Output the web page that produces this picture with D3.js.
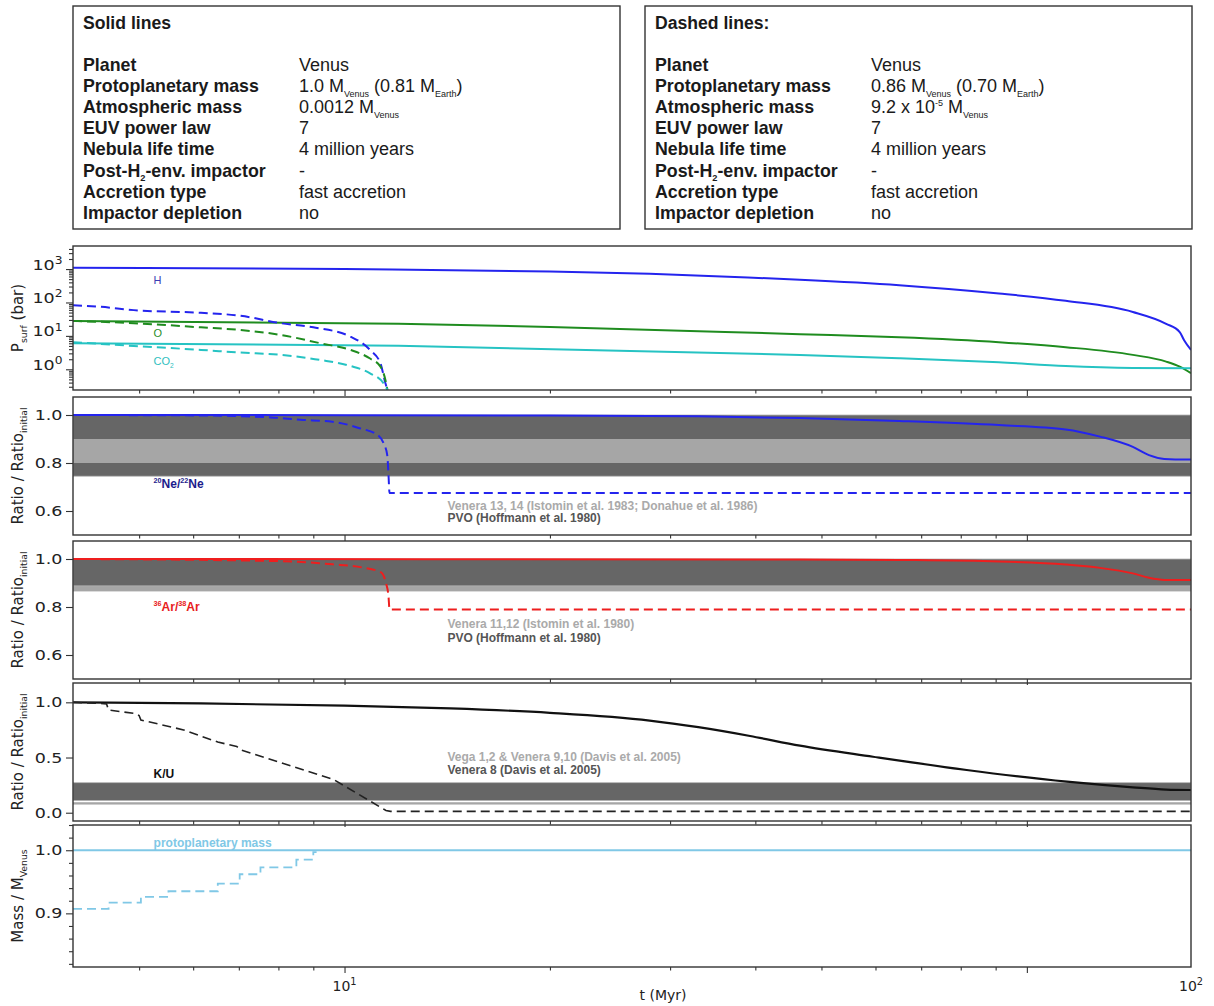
<!DOCTYPE html>
<html>
<head>
<meta charset="utf-8">
<script src="https://cdn.jsdelivr.net/npm/d3@7"></script>
<style>
  body { margin: 0; background: #fff; }
  svg text { font-family: "DejaVu Sans", sans-serif; white-space: pre; }
  svg text.sans { font-family: "Liberation Sans", Arial, sans-serif; }
</style>
</head>
<body>
<svg id="chart" width="1214" height="1006"></svg>
<script>
// ---------- parameter tables ----------
const infoFields = ["Planet", "Protoplanetary mass", "Atmospheric mass", "EUV power law",
  "Nebula life time", "Post-H_{2}-env. impactor", "Accretion type", "Impactor depletion"];
const solidInfo = ["Venus", "1.0 M_{Venus} (0.81 M_{Earth})", "0.0012 M_{Venus}", "7",
  "4 million years", "-", "fast accretion", "no"];
const dashedInfo = ["Venus", "0.86 M_{Venus} (0.70 M_{Earth})", "9.2 x 10^{-5} M_{Venus}", "7",
  "4 million years", "-", "fast accretion", "no"];

// ---------- time axis (Myr) ----------
const tDomain = [4, 174];
const xMinorTicks = [5, 6, 7, 8, 9, 20, 30, 40, 50, 60, 70, 80, 90];
const xMajorTicks = [10, 100];
const xTickLabels = ["10^{1}", "10^{2}"];
const xTickLabelAt = [10, 174];

// ---------- surface partial pressures (bar) ----------
const pH_solid = [[4, 1100], [10, 1000], [20, 850], [28, 720], [39, 560], [46.5, 480], [65, 330],
  [91, 186], [114, 112], [143, 52], [160, 23], [167.5, 13], [170, 7.4], [174, 3.8]];
const pO_solid = [[4, 28], [12, 23], [20, 18.6], [46.5, 11.2], [65, 9.1], [91, 6.5], [114, 4.6],
  [143, 2.7], [160, 1.7], [167.5, 1.2], [174, 0.76]];
const pCO2_solid = [[4, 6.0], [12, 5.1], [46.5, 2.7], [65, 2.15], [91, 1.62], [114, 1.26],
  [143, 1.1], [174, 1.07]];
const pH_dashed = [[4, 83], [4.39, 74], [4.91, 59], [6.16, 49], [7.04, 40], [8.06, 24], [9.0, 18],
  [10.2, 9.5], [10.9, 3.8], [11.29, 1.5], [11.48, 0.38], [11.56, 0.24]];
const pO_dashed = [[4, 28], [4.91, 24], [6.16, 18], [7.04, 15], [8.06, 10.7], [9.22, 6.0],
  [10.2, 3.8], [10.9, 2.1], [11.29, 1.2], [11.48, 0.48], [11.56, 0.24]];
const pCO2_dashed = [[4, 6.5], [4.91, 5.0], [6.16, 3.8], [7.04, 3.16], [8.06, 2.7], [9.22, 1.9],
  [10.2, 1.26], [10.9, 0.76], [11.41, 0.38], [11.56, 0.24]];

// ---------- isotope / element ratios, normalised to initial ----------
const ne_solid = [[4, 1.0], [20, 0.998], [33, 0.995], [46.5, 0.987], [65, 0.975], [91, 0.958],
  [114, 0.94], [128, 0.91], [143, 0.867], [151, 0.833], [159, 0.817], [165, 0.815], [174, 0.815]];
const ne_dashed = [[4, 1.0], [6.16, 0.998], [7.8, 0.99], [8.62, 0.98], [9.6, 0.972], [10.55, 0.944],
  [11.18, 0.917], [11.41, 0.882], [11.55, 0.833], [11.6, 0.75], [11.64, 0.675], [174, 0.675]];
const ar_solid = [[4, 1.0], [46.5, 0.998], [65, 0.996], [91, 0.99], [114, 0.977], [128, 0.963],
  [143, 0.94], [151, 0.922], [159, 0.913], [174, 0.912]];
const ar_dashed = [[4, 1.0], [7.8, 0.992], [9.6, 0.978], [10.6, 0.965], [11.3, 0.945], [11.5, 0.9],
  [11.6, 0.844], [11.64, 0.79], [174, 0.79]];
const ku_solid = [[4, 1.0], [6.16, 0.99], [10, 0.97], [14.3, 0.945], [20, 0.905], [28, 0.835],
  [33, 0.775], [39.3, 0.695], [46.5, 0.607], [59.5, 0.507], [81.6, 0.387], [114.5, 0.281],
  [143, 0.23], [160, 0.21], [174, 0.206]];
const ku_dashed = [[4, 1.0], [4.39, 0.99], [4.48, 0.985], [4.51, 0.93], [4.91, 0.9], [5.0, 0.88],
  [5.03, 0.84], [5.81, 0.75], [6.52, 0.64], [6.95, 0.6], [7.04, 0.57], [9.64, 0.3], [11.29, 0.05],
  [11.5, 0.02], [11.68, 0.012], [174, 0.012]];

// ---------- planet mass ----------
const mass_solid = [[4, 1.0], [174, 1.0]];
const mass_dashed = [[4, 0.907], [4.51, 0.917], [5.03, 0.926], [5.52, 0.935], [6.52, 0.947],
  [7.02, 0.962], [7.53, 0.973], [8.5, 0.985], [9.0, 0.997], [9.1, 0.997]];

// ---------- measured ranges ----------
const neBands = [
  { label: "PVO (Hoffmann et al. 1980)", lo: 0.745, hi: 1.0, tone: "dark" },
  { label: "Venera 13, 14 (Istomin et al. 1983; Donahue et al. 1986)", lo: 0.8, hi: 0.9, tone: "light" }
];
const arBands = [
  { label: "Venera 11,12 (Istomin et al. 1980)", lo: 0.865, hi: 1.0, tone: "light" },
  { label: "PVO (Hoffmann et al. 1980)", lo: 0.888, hi: 1.0, tone: "dark" }
];
const kuBands = [
  { label: "Vega 1,2 & Venera 9,10 (Davis et al. 2005)", lo: 0.074, hi: 0.095, tone: "light" },
  { label: "Venera 8 (Davis et al. 2005)", lo: 0.11, hi: 0.272, tone: "dark" }
];

// ---------- helpers ----------
const svg = d3.select("#chart");
svg.append("rect").attr("width", 1214).attr("height", 1006).attr("fill", "#fff");

// text with _{sub} and ^{sup} markup
function rich(sel, str, size, ratio = 0.6) {
  const re = /([_^])\{([^}]*)\}/g;
  const parts = [];
  let last = 0, m;
  while ((m = re.exec(str))) {
    if (m.index > last) parts.push({ s: str.slice(last, m.index), k: "" });
    parts.push({ s: m[2], k: m[1] });
    last = re.lastIndex;
  }
  if (last < str.length) parts.push({ s: str.slice(last), k: "" });
  let cur = 0;
  parts.forEach(p => {
    const off = p.k === "_" ? size * 0.28 : p.k === "^" ? -size * 0.42 : 0;
    sel.append("tspan").attr("dy", off - cur)
      .attr("font-size", p.k ? size * ratio : size).text(p.s);
    cur = off;
  });
  return sel;
}

// ---------- parameter boxes ----------
function infoBox(x0, title, values) {
  const g = svg.append("g");
  g.append("rect").attr("x", x0).attr("y", 6).attr("width", 547).attr("height", 223)
    .attr("fill", "#fff").attr("stroke", "#333").attr("stroke-width", 1.4);
  g.append("text").attr("class", "sans").attr("x", x0 + 10).attr("y", 29)
    .attr("font-size", 17.6).attr("font-weight", "bold").attr("fill", "#1a1a1a").text(title);
  infoFields.forEach((f, i) => {
    const yb = 71 + i * 21.1;
    rich(g.append("text").attr("class", "sans").attr("x", x0 + 10).attr("y", yb)
      .attr("font-weight", "bold").attr("fill", "#1a1a1a"), f, 17.8, 0.52);
    rich(g.append("text").attr("class", "sans").attr("x", x0 + 226).attr("y", yb)
      .attr("fill", "#1a1a1a"), values[i], 18, 0.5);
  });
}
infoBox(73, "Solid lines", solidInfo);
infoBox(645, "Dashed lines:", dashedInfo);

// ---------- scales ----------
const x = d3.scaleLog().domain(tDomain).range([73, 1191]);

const panels = [
  { y: d3.scaleLog().domain([0.24, 4900]).range([390, 246]), title: "P_{surf} (bar)" },
  { y: d3.scaleLinear().domain([0.5, 1.075]).range([535, 397]), title: "Ratio / Ratio_{initial}" },
  { y: d3.scaleLinear().domain([0.5, 1.075]).range([679, 541]), title: "Ratio / Ratio_{initial}" },
  { y: d3.scaleLinear().domain([-0.075, 1.175]).range([821, 683]), title: "Ratio / Ratio_{initial}" },
  { y: d3.scaleLinear().domain([0.815, 1.04]).range([967, 825]), title: "Mass / M_{Venus}" }
];

const toneFill = { dark: "#666666", light: "#a6a6a6" };
const toneText = { dark: "#555555", light: "#aaaaaa" };

panels.forEach((p, i) => {
  const [yb, yt] = p.y.range();
  const cid = "clip" + i;
  svg.append("clipPath").attr("id", cid).append("rect")
    .attr("x", 73).attr("y", yt).attr("width", 1191 - 73).attr("height", yb - yt);
  p.g = svg.append("g");
  p.plot = p.g.append("g").attr("clip-path", `url(#${cid})`);
  p.top = yt; p.bottom = yb;
});

function bands(p, list) {
  list.forEach(b => {
    p.plot.append("rect").attr("x", 73).attr("width", 1191 - 73)
      .attr("y", p.y(b.hi)).attr("height", p.y(b.lo) - p.y(b.hi))
      .attr("fill", toneFill[b.tone])
      .attr("stroke", b.tone === "dark" ? "#b5b5b5" : "none").attr("stroke-width", 0.8);
  });
}
function series(p, data, color, dashed, width = 2, curve = d3.curveMonotoneX) {
  const line = d3.line().x(d => x(d[0])).y(d => p.y(d[1])).curve(curve);
  p.plot.append("path").datum(data).attr("d", line).attr("fill", "none")
    .attr("stroke", color).attr("stroke-width", width)
    .attr("stroke-dasharray", dashed ? "9,5" : null);
}
function note(p, t, v, str, color, size, bold) {
  rich(p.g.append("text").attr("class", "sans").attr("x", x(t)).attr("y", p.y(v))
    .attr("fill", color).attr("font-weight", bold ? "bold" : "normal"), str, size, 0.6);
}

const BLUE = "#2424ee", GREEN = "#1f8c1f", CYAN = "#26c3c3", RED = "#ee1e1e", SKY = "#80c8e6";

// panel 1: surface pressures
const P1 = panels[0];
series(P1, pH_solid, BLUE, false);
series(P1, pO_solid, GREEN, false);
series(P1, pCO2_solid, CYAN, false);
series(P1, pH_dashed, BLUE, true);
series(P1, pO_dashed, GREEN, true);
series(P1, pCO2_dashed, CYAN, true);
note(P1, 5.25, 357, "H", "#3c3cb4", 11, false);
note(P1, 5.25, 9.2, "O", "#2a8f2a", 11, false);
note(P1, 5.25, 1.34, "CO_{2}", "#30c0c0", 11, false);

// panel 2: neon
const P2 = panels[1];
bands(P2, neBands);
series(P2, ne_solid, BLUE, false);
series(P2, ne_dashed, BLUE, true);
note(P2, 5.25, 0.696, "^{20}Ne/^{22}Ne", "#1c1c8c", 12, true);
note(P2, 14.15, 0.604, neBands[1].label, toneText.light, 12, true);
note(P2, 14.15, 0.553, neBands[0].label, toneText.dark, 12, true);

// panel 3: argon
const P3 = panels[2];
bands(P3, arBands);
series(P3, ar_solid, RED, false);
series(P3, ar_dashed, RED, true);
note(P3, 5.25, 0.783, "^{36}Ar/^{38}Ar", "#e82020", 12, true);
note(P3, 14.15, 0.714, arBands[0].label, toneText.light, 12, true);
note(P3, 14.15, 0.656, arBands[1].label, toneText.dark, 12, true);

// panel 4: K/U
const P4 = panels[3];
bands(P4, kuBands);
series(P4, ku_solid, "#111", false, 2.2);
series(P4, ku_dashed, "#222", true, 1.6, d3.curveLinear);
note(P4, 5.25, 0.312, "K/U", "#111", 12, true);
note(P4, 14.15, 0.466, kuBands[0].label, toneText.light, 12, true);
note(P4, 14.15, 0.349, kuBands[1].label, toneText.dark, 12, true);

// panel 5: mass
const P5 = panels[4];
series(P5, mass_solid, SKY, false, 1.8);
series(P5, mass_dashed, SKY, true, 1.8, d3.curveStepAfter);
note(P5, 5.25, 1.0053, "protoplanetary mass", SKY, 12, true);

// ---------- frames and axes ----------
const AX = "#333";
function styleAxis(g) {
  g.select(".domain").remove();
  g.selectAll(".tick line").attr("stroke", AX).attr("stroke-width", 1.1);
  g.selectAll(".tick text").attr("fill", "#222").attr("font-size", 14)
    .attr("font-family", "DejaVu Sans, sans-serif");
}

const yMajor = [
  [1, 10, 100, 1000],
  [0.6, 0.8, 1.0],
  [0.6, 0.8, 1.0],
  [0.0, 0.5, 1.0],
  [0.9, 1.0]
];
const p1Minor = [];
[0.1, 1, 10, 100, 1000].forEach(d => { for (let k = 2; k <= 9; k++) p1Minor.push(d * k); });
const yMinor = [
  p1Minor.filter(v => v >= 0.24 && v <= 4900),
  [], [], [],
  [0.82, 0.84, 0.86, 0.88, 0.92, 0.94, 0.96, 0.98, 1.02, 1.04]
];
const p1Labels = ["10^{0}", "10^{1}", "10^{2}", "10^{3}"];

panels.forEach((p, i) => {
  // x ticks along the bottom of every panel
  p.g.append("g").attr("transform", `translate(0,${p.bottom})`)
    .call(d3.axisBottom(x).tickValues(xMinorTicks).tickSize(3.5).tickFormat(() => ""))
    .call(styleAxis);
  p.g.append("g").attr("transform", `translate(0,${p.bottom})`)
    .call(d3.axisBottom(x).tickValues(xMajorTicks).tickSize(6).tickFormat(() => ""))
    .call(styleAxis);

  // y ticks
  if (yMinor[i].length) {
    p.g.append("g").attr("transform", "translate(73,0)")
      .call(d3.axisLeft(p.y).tickValues(yMinor[i]).tickSize(4).tickFormat(() => ""))
      .call(styleAxis);
  }
  const ya = p.g.append("g").attr("transform", "translate(73,0)")
    .call(d3.axisLeft(p.y).tickValues(yMajor[i]).tickSize(7).tickPadding(3)
      .tickFormat(d3.format(".1f")))
    .call(styleAxis);
  ya.selectAll(".tick text")
    .attr("x", -10.5 / 1.25).attr("transform", "scale(1.25,1)");
  if (i === 0) {
    ya.selectAll(".tick text").each(function (d, k) {
      const t = d3.select(this).text("");
      rich(t, p1Labels[k], 14, 0.7);
    });
  }

  // frame
  p.g.append("rect").attr("x", 73).attr("y", p.top).attr("width", 1191 - 73)
    .attr("height", p.bottom - p.top).attr("fill", "none")
    .attr("stroke", AX).attr("stroke-width", 1.4);

  // y title
  const cy = (p.top + p.bottom) / 2;
  rich(svg.append("text").attr("transform", `translate(23,${cy}) rotate(-90)`)
    .attr("text-anchor", "middle").attr("fill", "#222"), p.title, 15, 0.62);
});

// x tick labels and title under the last panel
xTickLabelAt.forEach((t, k) => {
  rich(svg.append("text").attr("x", x(t)).attr("y", 991).attr("text-anchor", "middle")
    .attr("fill", "#222"), xTickLabels[k], 14, 0.7);
});
svg.append("text").attr("x", 663).attr("y", 1000).attr("text-anchor", "middle")
  .attr("font-size", 14).attr("fill", "#222").text("t (Myr)");
</script>
</body>
</html>
